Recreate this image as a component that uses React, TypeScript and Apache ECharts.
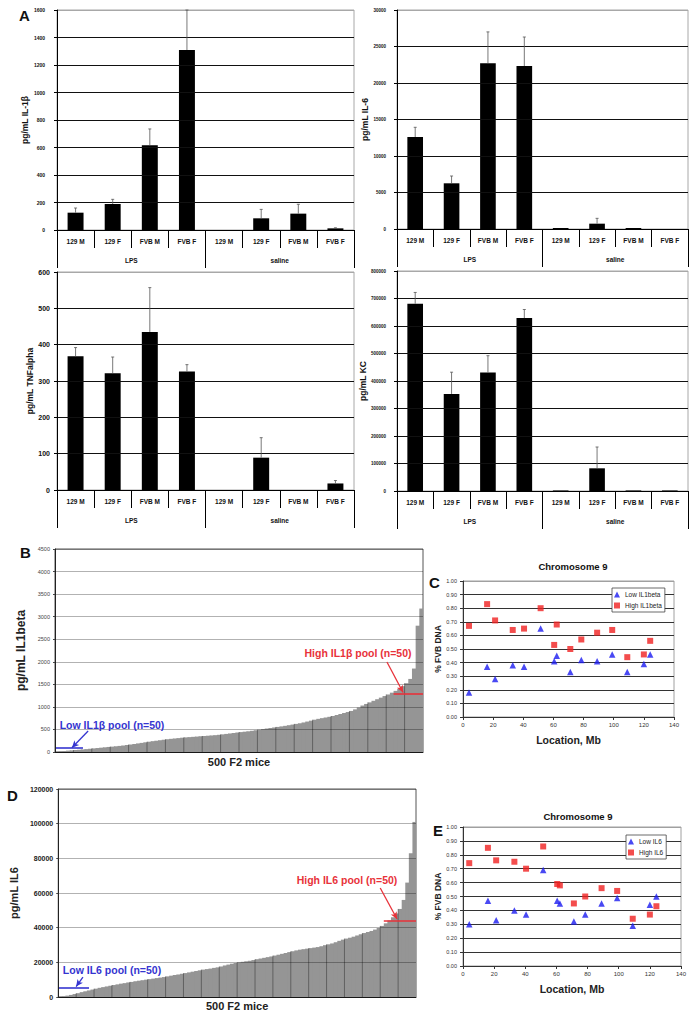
import React, { useEffect, useRef } from 'react';
import * as echarts from 'echarts';

const FONT = 'Arial, "Liberation Sans", Helvetica, sans-serif';

// ---- Panel A data ----
const treatments = ['LPS', 'saline'];
const strains = ['129 M', '129 F', 'FVB M', 'FVB F'];
const il1bMean = [126, 189, 616, 1309, 0, 85, 119, 12];
const il1bErrTop = [160, 223, 735, 1600, 0, 150, 187, 16];
const il6Mean = [12600, 6260, 22700, 22330, 140, 730, 140, 0];
const il6ErrTop = [13930, 7260, 27000, 26300, 140, 1460, 140, 0];
const tnfMean = [368, 321, 435, 326, 0, 89, 0, 18];
const tnfErrTop = [392, 366, 557, 345, 0, 144, 0, 26];
const kcMean = [681000, 353000, 431000, 629000, 2000, 82500, 2000, 2000];
const kcErrTop = [722000, 432000, 492000, 660000, 2000, 160000, 2000, 2000];

// ---- Panels B / D: sorted F2 phenotypes (each bar ~5 mice) ----
const il1bF2 = [5, 15, 22, 30, 36, 44, 50, 57, 64, 72, 80, 88, 96, 104, 112, 119, 127, 135, 144, 155,
  166, 177, 190, 202, 215, 228, 240, 250, 261, 272, 283, 292, 300, 308, 317, 324, 330, 336, 342, 349,
  355, 361, 367, 373, 381, 391, 401, 411, 421, 432, 441, 450, 459, 470, 482, 495, 508, 520, 532, 544,
  556, 568, 580, 594, 608, 623, 637, 655, 675, 695, 716, 735, 750, 765, 780, 798, 820, 842, 864, 886,
  910, 945, 985, 1030, 1065, 1100, 1135, 1170, 1205, 1240, 1275, 1315, 1355, 1400, 1460, 1525, 1620, 1850, 2800, 3180];
const il6F2 = [200, 400, 800, 1200, 1700, 2200, 2800, 3300, 3800, 4300, 4800, 5300, 5700, 6100, 6500, 6900, 7300, 7700, 8000, 8400,
  8700, 9100, 9400, 9700, 10000, 10300, 10600, 10900, 11200, 11500, 11900, 12300, 12700, 13000, 13400, 13800, 14200, 14600, 15000, 15400,
  15800, 16100, 16400, 16800, 17100, 17600, 18200, 18700, 19200, 19600, 20000, 20300, 20600, 20900, 21300, 21800, 22200, 22600, 23000, 23400,
  23900, 24400, 24900, 25400, 25900, 26400, 26900, 27300, 27600, 27900, 28200, 28500, 28800, 29300, 29900, 30400, 30900, 31600, 32400, 33100,
  33700, 34200, 34800, 35500, 36200, 36900, 37500, 38100, 38900, 39800, 41000, 42500, 44200, 46000, 48200, 50800, 56000, 66000, 83000, 101000];
const il1bLowPool = { from: 0, to: 7.6, level: 100, arrowFrom: [9.0, 465], arrowTo: [4.6, 95] };
const il1bHighPool = { from: 92, to: 100, level: 1300, arrowFrom: [90.2, 1995], arrowTo: [94.6, 1320] };
const il6LowPool = { from: 0, to: 8.6, level: 5400, arrowFrom: [6.9, 11500], arrowTo: [5.0, 6000] };
const il6HighPool = { from: 91, to: 100, level: 44000, arrowFrom: [90, 62900], arrowTo: [94.7, 45000] };

// ---- Panels C / E: chromosome 9 markers ----
const chr9Mb = [4, 16, 21.3, 33, 40.5, 51.5, 60.5, 62.2, 71.2, 78.5, 89, 99, 109, 120, 124.2];
const lowIL1beta = [0.18, 0.37, 0.28, 0.38, 0.37, 0.65, 0.41, 0.45, 0.33, 0.42, 0.41, 0.46, 0.33, 0.39, 0.46];
const highIL1beta = [0.67, 0.83, 0.71, 0.64, 0.65, 0.80, 0.53, 0.68, 0.50, 0.57, 0.62, 0.64, 0.44, 0.46, 0.56];
const lowIL6 = [0.30, 0.47, 0.33, 0.40, 0.37, 0.69, 0.47, 0.45, 0.32, 0.37, 0.45, 0.49, 0.29, 0.44, 0.50];
const highIL6 = [0.74, 0.85, 0.76, 0.75, 0.70, 0.86, 0.59, 0.58, 0.45, 0.50, 0.56, 0.54, 0.34, 0.37, 0.43];

const categoryKeys = treatments.flatMap((t) => strains.map((s) => t + '|' + s));

function errRender(_p: any, api: any) {
  const x = api.value(0);
  const p0 = api.coord([x, api.value(1)]);
  const p1 = api.coord([x, api.value(2)]);
  const st = { stroke: '#555', lineWidth: 0.8 };
  return {
    type: 'group',
    children: [
      { type: 'line', shape: { x1: p0[0], y1: p0[1], x2: p1[0], y2: p1[1] }, style: st },
      { type: 'line', shape: { x1: p1[0] - 1.5, y1: p1[1], x2: p1[0] + 1.5, y2: p1[1] }, style: st },
    ],
  };
}

function poolRender(_p: any, api: any) {
  const i = api.value(0);
  const v = api.value(1);
  const a = api.coord([i, 0]);
  const b = api.coord([i + 1, v]);
  const end = api.coord([i + 1, 0]);
  const isLast = Math.abs(end[0] - api.coord([_p.dataInsideLength, 0])[0]) < 0.5;
  const children: any[] = [
    { type: 'rect', shape: { x: a[0], y: b[1], width: b[0] - a[0] + (isLast ? 0 : 1.2), height: a[1] - b[1] }, style: { fill: '#959595', stroke: null } },
  ];
  if (i > 0 && i % 5 === 0) {
    children.push({ type: 'line', z2: 5, shape: { x1: a[0], y1: a[1], x2: a[0], y2: b[1] }, style: { stroke: 'rgba(0,0,0,0.45)', lineWidth: 0.8 } });
  }
  return { type: 'group', children };
}

function splitColors(n: number, main: string, top: string) {
  const arr: string[] = [];
  for (let i = 0; i < n; i++) arr.push(i === n - 1 ? top : main);
  return arr;
}

function buildOption() {
  const grid: any[] = [];
  const xAxis: any[] = [];
  const yAxis: any[] = [];
  const series: any[] = [];

  const aPanels = [
    { g: [57, 10, 297, 220], name: 'pg/mL IL-1\u03b2', max: 1600, step: 200, mean: il1bMean, err: il1bErrTop, ls: 5, lm: 12, ng: 20 },
    { g: [397, 10, 291, 219], name: 'pg/mL IL-6', max: 30000, step: 5000, mean: il6Mean, err: il6ErrTop, ls: 4.5, lm: 11, ng: 23 },
    { g: [57, 272, 297, 218], name: 'pg/mL TNFalpha', max: 600, step: 100, mean: tnfMean, err: tnfErrTop, ls: 7, lm: 7, ng: 22 },
    { g: [397, 271, 291, 220], name: 'pg/mL KC', max: 800000, step: 100000, mean: kcMean, err: kcErrTop, ls: 4.5, lm: 11, ng: 28 },
  ];
  aPanels.forEach((p, k) => {
    grid.push({ left: p.g[0], top: p.g[1], width: p.g[2], height: p.g[3], show: true, borderColor: '#a8a8a8', borderWidth: 1 });
    xAxis.push({
      type: 'category', gridIndex: k, data: categoryKeys,
      axisLine: { lineStyle: { color: '#000', width: 1 } },
      axisTick: { show: true, length: 18, interval: 0, lineStyle: { color: '#000' } },
      axisLabel: { interval: 0, fontSize: 6.5, fontWeight: 'bold', color: '#111', margin: 8, fontFamily: FONT, formatter: (v: string) => v.split('|')[1] },
      z: 3,
    });
    xAxis.push({
      type: 'category', gridIndex: k, data: treatments, position: 'bottom', offset: 18,
      axisLine: { show: false },
      axisTick: { show: true, length: 20, interval: 0, lineStyle: { color: '#000' } },
      axisLabel: { interval: 0, fontSize: 6.5, fontWeight: 'bold', color: '#111', margin: 9, fontFamily: FONT },
    });
    yAxis.push({
      type: 'value', gridIndex: k, min: 0, max: p.max, interval: p.step,
      name: p.name, nameLocation: 'middle', nameGap: p.ng,
      nameTextStyle: { fontSize: 8.5, fontWeight: 'bold', color: '#111', fontFamily: FONT },
      axisLine: { show: true, lineStyle: { color: '#000' } },
      axisTick: { show: true, length: 3, lineStyle: { color: '#000' } },
      axisLabel: { fontSize: p.ls, fontWeight: 'bold', color: '#111', margin: p.lm, fontFamily: FONT, formatter: (v: number) => String(v) },
      splitLine: { show: true, lineStyle: { color: splitColors(p.max / p.step + 1, '#111', '#a8a8a8'), width: 1 } },
      z: 3,
    });
    series.push({ type: 'bar', xAxisIndex: 2 * k, yAxisIndex: k, data: p.mean, barWidth: '43%', itemStyle: { color: '#000' }, silent: true });
    series.push({
      type: 'custom', xAxisIndex: 2 * k, yAxisIndex: k, renderItem: errRender, silent: true, z: 4,
      encode: { x: 0, y: [1, 2] },
      data: p.mean.map((m, i) => [i, m, p.err[i]]).filter((d) => d[2] > d[1]),
    });
  });

  const poolPanels = [
    { g: [55, 549, 368, 203], data: il1bF2, max: 4500, step: 500, name: 'pg/mL IL1beta', ng: 23, nf: 12, ls: 5.5, lw: 'normal', lc: '#444', lo: il1bLowPool, hi: il1bHighPool, xg: 4 },
    { g: [55, 789, 361, 208], data: il6F2, max: 120000, step: 20000, name: 'pg/mL IL6', ng: 34, nf: 11, ls: 7, lw: 'bold', lc: '#222', lo: il6LowPool, hi: il6HighPool, xg: 3 },
  ];
  const poolGridIdx = [4, 6];
  const poolXIdx = [8, 10];
  const poolYIdx = [4, 6];

  const scPanels = [
    { g: [463, 581, 211, 136], low: lowIL1beta, high: highIL1beta, lowName: 'Low IL1beta', highName: 'High IL1beta' },
    { g: [463, 827, 218, 139], low: lowIL6, high: highIL6, lowName: 'Low IL6', highName: 'High IL6' },
  ];

  const addPool = (j: number) => {
    const p = poolPanels[j];
    const gi = poolGridIdx[j];
    grid[gi] = { left: p.g[0], top: p.g[1], width: p.g[2], height: p.g[3], show: true, borderColor: '#555', borderWidth: 1 };
    xAxis[poolXIdx[j]] = {
      type: 'value', gridIndex: gi, min: 0, max: p.data.length,
      axisLine: { show: true, lineStyle: { color: '#222' } }, axisTick: { show: false }, axisLabel: { show: false }, splitLine: { show: false },
      name: '500 F2 mice', nameLocation: 'middle', nameGap: p.xg,
      nameTextStyle: { fontSize: 11, fontWeight: 'bold', color: '#222', fontFamily: FONT, verticalAlign: 'top' },
    };
    yAxis[poolYIdx[j]] = {
      type: 'value', gridIndex: gi, min: 0, max: p.max, interval: p.step,
      name: p.name, nameLocation: 'middle', nameGap: p.ng,
      nameTextStyle: { fontSize: p.nf, fontWeight: 'bold', color: '#222', fontFamily: FONT },
      axisLine: { show: true, lineStyle: { color: '#222' } },
      axisTick: { show: true, length: 2, lineStyle: { color: '#444' } },
      axisLabel: { fontSize: p.ls, fontWeight: p.lw, color: p.lc, margin: 5, fontFamily: FONT, formatter: (v: number) => String(v) },
      splitLine: { show: true, lineStyle: { color: 'rgba(0,0,0,0.3)', width: 1 } },
      z: 5,
    };
    const blue = '#3535d0';
    const red = '#e8323a';
    series.push({
      type: 'custom', xAxisIndex: poolXIdx[j], yAxisIndex: poolYIdx[j], renderItem: poolRender, silent: true,
      data: p.data.map((v, i) => [i, v]),
      markLine: {
        silent: true, symbol: ['none', 'arrow'], symbolSize: [5, 7], label: { show: false }, animation: false,
        data: [
          [{ coord: [p.lo.from, p.lo.level], symbol: 'none', lineStyle: { color: blue, width: 1.6, type: 'solid' } }, { coord: [p.lo.to, p.lo.level], symbol: 'none' }],
          [{ coord: [p.hi.from, p.hi.level], symbol: 'none', lineStyle: { color: red, width: 1.6, type: 'solid' } }, { coord: [p.hi.to, p.hi.level], symbol: 'none' }],
          [{ coord: p.lo.arrowFrom, symbol: 'none', lineStyle: { color: blue, width: 1.3, type: 'solid' } }, { coord: p.lo.arrowTo, symbol: 'arrow' }],
          [{ coord: p.hi.arrowFrom, symbol: 'none', lineStyle: { color: red, width: 1.3, type: 'solid' } }, { coord: p.hi.arrowTo, symbol: 'arrow' }],
        ],
      },
    });
  };
  const addScatter = (j: number) => {
    const p = scPanels[j];
    const gi = j === 0 ? 5 : 7;
    const xi = j === 0 ? 9 : 11;
    const yi = j === 0 ? 5 : 7;
    grid[gi] = { left: p.g[0], top: p.g[1], width: p.g[2], height: p.g[3], show: true, borderColor: '#a0a0a0', borderWidth: 1 };
    xAxis[xi] = {
      type: 'value', gridIndex: gi, min: 0, max: 140, interval: 20,
      axisLine: { show: true, lineStyle: { color: '#333' } },
      axisTick: { show: true, length: 3, lineStyle: { color: '#333' } },
      axisLabel: { fontSize: 6, color: '#333', margin: 5, fontFamily: FONT },
      splitLine: { show: false },
      name: 'Location, Mb', nameLocation: 'middle', nameGap: 17,
      nameTextStyle: { fontSize: 10.5, fontWeight: 'bold', color: '#222', fontFamily: FONT },
    };
    yAxis[yi] = {
      type: 'value', gridIndex: gi, min: 0, max: 1, interval: 0.1,
      name: '% FVB DNA', nameLocation: 'middle', nameGap: 18,
      nameTextStyle: { fontSize: 8.5, fontWeight: 'bold', color: '#222', fontFamily: FONT },
      axisLine: { show: true, lineStyle: { color: '#333' } },
      axisTick: { show: true, length: 3, lineStyle: { color: '#333' } },
      axisLabel: { fontSize: 5.5, color: '#333', margin: 6, fontFamily: FONT, formatter: (v: number) => v.toFixed(2) },
      splitLine: { show: true, lineStyle: { color: splitColors(11, '#333', '#a0a0a0'), width: 1 } },
    };
    series.push({
      type: 'scatter', name: p.lowName, xAxisIndex: xi, yAxisIndex: yi, symbol: 'triangle', symbolSize: 6.5,
      itemStyle: { color: '#1c1cf0' }, data: chr9Mb.map((x, i) => [x, p.low[i]]), z: 4,
    });
    series.push({
      type: 'scatter', name: p.highName, xAxisIndex: xi, yAxisIndex: yi, symbol: 'rect', symbolSize: 6,
      itemStyle: { color: '#f02020' }, data: chr9Mb.map((x, i) => [x, p.high[i]]), z: 4,
    });
  };
  addPool(0);
  addScatter(0);
  addPool(1);
  addScatter(1);

  const legendBase = {
    orient: 'vertical', itemWidth: 6, itemHeight: 6, itemGap: 4, padding: [3, 3, 3, 2],
    borderColor: '#444', borderWidth: 0.8, backgroundColor: '#fff',
    textStyle: { fontSize: 6.5, color: '#222', fontFamily: FONT },
  };
  const legend = [
    { ...legendBase, data: ['Low IL1beta', 'High IL1beta'], left: 612, top: 588 },
    { ...legendBase, data: ['Low IL6', 'High IL6'], left: 626, top: 835 },
  ];

  const txt = (text: string, x: number, y: number, size: number, fill = '#111', align = 'center') => ({
    type: 'text', x, y, silent: true, z: 10,
    style: { text, fill, fontSize: size, fontWeight: 'bold', fontFamily: FONT, textAlign: align, textVerticalAlign: 'middle' },
  });
  const graphic = [
    txt('A', 19, 15, 15, '#111', 'left'),
    txt('B', 20, 552, 15, '#111', 'left'),
    txt('C', 429, 582, 15, '#111', 'left'),
    txt('D', 7, 795, 15, '#111', 'left'),
    txt('E', 433, 830, 15, '#111', 'left'),
    txt('Chromosome 9', 573, 566, 9.5),
    txt('Chromosome 9', 578, 816, 9.5),
    txt('High IL1\u03b2 pool (n=50)', 358, 653, 10.5, '#e8323a'),
    txt('Low IL1\u03b2 pool (n=50)', 112, 725, 10.5, '#3535d0'),
    txt('High IL6 pool (n=50)', 347, 880, 10.5, '#e8323a'),
    txt('Low IL6 pool (n=50)', 112, 970, 10.5, '#3535d0'),
  ];

  return {
    animation: false,
    backgroundColor: '#fff',
    textStyle: { fontFamily: FONT },
    grid, xAxis, yAxis, series, legend, graphic,
  };
}

export default function App() {
  const ref = useRef<HTMLDivElement>(null);
  useEffect(() => {
    const chart = echarts.init(ref.current as HTMLDivElement, null, { renderer: 'svg' });
    chart.setOption(buildOption() as any);
    return () => chart.dispose();
  }, []);
  return <div ref={ref} style={{ position: 'absolute', left: 0, top: 0, width: 696, height: 1016, background: '#fff' }} />;
}
